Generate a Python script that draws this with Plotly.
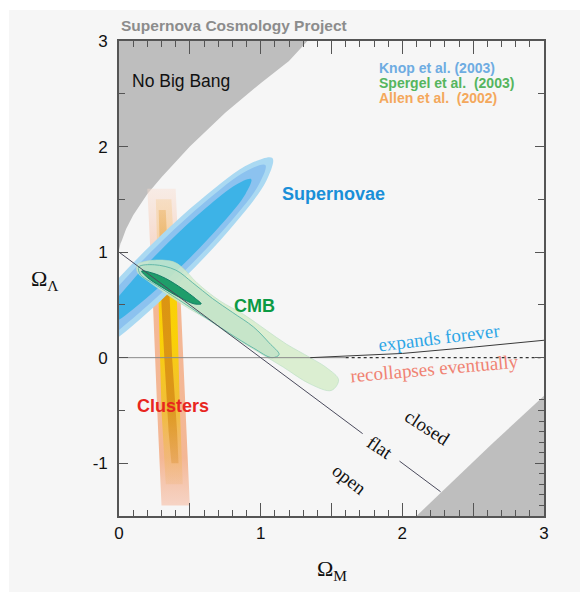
import plotly.graph_objects as go

# ---------------- data ----------------
# "No Big Bang" region boundary (Omega_M, Omega_Lambda)
NBB_M = [0.0, 0.0, 0.01, 0.02, 0.05, 0.10, 0.20, 0.30, 0.50, 0.75, 1.00, 1.20, 1.33, 1.40, 0.0]
NBB_L = [3.10, 1.02, 1.08, 1.11, 1.22, 1.35, 1.55, 1.71, 2.00, 2.32, 2.60, 2.81, 3.00, 3.10, 3.10]

# bottom-right grey region
BR_M = [2.10, 2.27, 2.63, 3.00, 3.00]
BR_L = [-1.50, -1.28, -0.82, -0.36, -1.50]

# Clusters (Allen et al. 2002)
CL_OUTER_M = [0.20, 0.24, 0.27, 0.30, 0.50, 0.47, 0.44, 0.40]
CL_OUTER_L = [1.60, 0.50, -0.50, -1.40, -1.40, -0.50, 0.50, 1.60]
CL_MID_M = [0.26, 0.28, 0.30, 0.33, 0.45, 0.43, 0.41, 0.37]
CL_MID_L = [1.50, 0.50, -0.50, -1.20, -1.20, -0.50, 0.50, 1.50]
CL_CORE_M = [0.28, 0.30, 0.32, 0.35, 0.37, 0.42, 0.41, 0.375, 0.36, 0.33]
CL_CORE_L = [1.40, 0.50, 0.00, -0.70, -1.00, -1.00, -0.70, 0.00, 0.50, 1.40]

# Supernovae (Knop et al. 2003)
SN_OUTER_M = [1.083, 1.041, 0.807, 0.446, 0.054, -0.265, -0.424, -0.381, -0.148, 0.213, 0.606, 0.924]
SN_OUTER_L = [1.891, 1.678, 1.255, 0.735, 0.256, -0.051, -0.105, 0.108, 0.531, 1.051, 1.530, 1.837]
SN_MID_M = [1.033, 0.988, 0.774, 0.447, 0.095, -0.186, -0.323, -0.278, -0.064, 0.263, 0.615, 0.896]
SN_MID_L = [1.825, 1.642, 1.267, 0.801, 0.369, 0.085, 0.027, 0.210, 0.585, 1.051, 1.484, 1.767]
SN_IN_M = [0.933, 0.894, 0.725, 0.469, 0.197, -0.019, -0.123, -0.084, 0.085, 0.341, 0.613, 0.829]
SN_IN_L = [1.691, 1.554, 1.266, 0.904, 0.567, 0.344, 0.294, 0.431, 0.718, 1.081, 1.418, 1.641]

# CMB (Spergel et al. 2003)
CMB_OUTER_M = [0.13, 0.22, 0.38, 0.45, 0.55, 0.71, 0.88, 1.04, 1.18, 1.35, 1.47, 1.55,
               1.50, 1.35, 1.16, 1.00, 0.80, 0.64, 0.50, 0.36, 0.20, 0.13]
CMB_OUTER_L = [0.88, 0.92, 0.91, 0.85, 0.71, 0.54, 0.41, 0.26, 0.13, 0.00, -0.10, -0.21,
               -0.31, -0.25, -0.09, 0.04, 0.20, 0.35, 0.46, 0.58, 0.73, 0.81]
CMB_MID_M = [0.14, 0.25, 0.40, 0.52, 0.66, 0.80, 0.95, 1.06, 1.13, 1.08, 0.95, 0.78, 0.60, 0.42, 0.26, 0.15]
CMB_MID_L = [0.86, 0.88, 0.83, 0.71, 0.56, 0.43, 0.29, 0.14, 0.03, 0.00, 0.09, 0.23, 0.39, 0.55, 0.69, 0.79]
CMB_CORE_M = [0.16, 0.24, 0.33, 0.45, 0.54, 0.58, 0.53, 0.43, 0.30, 0.20]
CMB_CORE_L = [0.82, 0.80, 0.75, 0.65, 0.56, 0.51, 0.51, 0.57, 0.67, 0.76]

# lines
FLAT_M = [0.0, 1.72, None, 1.98, 2.27]
FLAT_L = [1.0, -0.72, None, -0.98, -1.27]
ZERO_M = [0.0, 1.60]
ZERO_L = [0.0, 0.0]
DOT_M = [1.60, 3.0]
DOT_L = [0.0, 0.0]
EXP_M = [1.35, 1.50, 2.00, 2.50, 3.00]
EXP_L = [0.00, 0.01, 0.04, 0.10, 0.165]

X_TICKS = [0, 1, 2, 3]
X_TICKTEXT = ["0", "1", "2", "3"]
X_HALF_TICKS = [0.5, 1.5, 2.5]
Y_TICKS = [-1, 0, 1, 2, 3]
Y_TICKTEXT = ["-1", "0", "1", "2", "3"]
RIGHT_MINOR = [-1.4, -1.3, -1.2, -1.1, -0.9, -0.8, -0.7, -0.6, -0.4]

LEGEND = ["Knop et al. (2003)", "Spergel et al.  (2003)", "Allen et al.  (2002)"]
LEGEND_COLORS = ["#6eace2", "#55b55e", "#f4a85c"]

# ---------------------------------------------------------------
fig = go.Figure()


def poly(xs, ys, fill, line_color=None, line_width=0, shape="linear", gradient=None):
    xs = list(xs) + [xs[0]]
    ys = list(ys) + [ys[0]]
    kw = {}
    if gradient is not None:
        kw["fillgradient"] = gradient
    fig.add_trace(go.Scatter(
        x=xs, y=ys, mode="lines", fill="toself", fillcolor=fill,
        line=dict(color=line_color or "rgba(0,0,0,0)", width=line_width, shape=shape),
        hoverinfo="skip", showlegend=False, **kw))


GREY = "#bebebe"
poly(NBB_M, NBB_L, GREY)
poly(BR_M, BR_L, GREY)

poly(CL_OUTER_M, CL_OUTER_L, "rgba(244,176,140,0.8)",
     gradient=dict(type="vertical", start=-1.4, stop=1.6,
                   colorscale=[[0.0, "rgba(246,200,180,0.75)"], [0.15, "rgba(243,172,132,0.85)"],
                               [0.62, "rgba(243,172,132,0.85)"], [0.78, "rgba(246,196,172,0.7)"],
                               [1.0, "rgba(249,222,208,0.45)"]]))
poly(CL_MID_M, CL_MID_L, "rgba(247,200,20,0.85)",
     gradient=dict(type="vertical", start=-1.2, stop=1.5,
                   colorscale=[[0.0, "rgba(240,180,120,0.3)"], [0.25, "rgba(240,190,40,0.8)"],
                               [0.5, "rgba(250,210,0,0.95)"], [0.68, "rgba(250,210,0,0.95)"],
                               [0.8, "rgba(245,200,120,0.55)"], [1.0, "rgba(245,205,150,0.4)"]]))
poly(CL_CORE_M, CL_CORE_L, "rgba(214,140,20,0.85)",
     gradient=dict(type="vertical", start=-1.0, stop=1.4,
                   colorscale=[[0.0, "rgba(222,150,60,0.45)"], [0.25, "rgba(216,142,20,0.85)"],
                               [0.7, "rgba(216,142,20,0.9)"], [0.85, "rgba(228,160,60,0.6)"],
                               [1.0, "rgba(235,175,90,0.45)"]]))

poly(SN_OUTER_M, SN_OUTER_L, "#aad9f2", shape="spline")
poly(SN_MID_M, SN_MID_L, "#8cc2ef", shape="spline")
poly(SN_IN_M, SN_IN_L, "#3db3e7", shape="spline")

poly(CMB_OUTER_M, CMB_OUTER_L, "rgba(212,236,200,0.80)", line_color="rgba(185,222,195,0.8)",
     line_width=0.8, shape="spline")
poly(CMB_MID_M, CMB_MID_L, "rgba(188,224,196,0.65)", line_color="rgba(90,180,165,0.9)",
     line_width=1, shape="spline")
poly(CMB_CORE_M, CMB_CORE_L, "#1f9d6a", line_color="#127c66", line_width=1, shape="spline")

# lines
fig.add_trace(go.Scatter(x=ZERO_M, y=ZERO_L, mode="lines", line=dict(color="#8a8a8a", width=1),
                         hoverinfo="skip", showlegend=False))
fig.add_trace(go.Scatter(x=FLAT_M, y=FLAT_L, mode="lines", line=dict(color="#4a4a5c", width=1),
                         hoverinfo="skip", showlegend=False, connectgaps=False))
fig.add_trace(go.Scatter(x=EXP_M, y=EXP_L, mode="lines", line=dict(color="#3a3a3a", width=1),
                         hoverinfo="skip", showlegend=False))
fig.add_trace(go.Scatter(x=DOT_M, y=DOT_L, mode="lines", xaxis="x2", yaxis="y2",
                         line=dict(color="#333333", width=1.3, dash="dot"),
                         hoverinfo="skip", showlegend=False))

AX = "#555555"
TICKFONT = dict(family="Liberation Sans, Arial, sans-serif", size=17, color="#111111")

fig.update_layout(
    width=588, height=594,
    margin=dict(l=111, r=52, t=33, b=86),
    paper_bgcolor="white",
    plot_bgcolor="#f6f6f6",
    showlegend=False,
    xaxis=dict(range=[0, 3], tickmode="array", tickvals=X_TICKS, ticktext=X_TICKTEXT,
               ticks="inside", ticklen=13, tickwidth=1.3, tickcolor=AX,
               minor=dict(dtick=0.1, ticks="inside", ticklen=6, tickwidth=1.1, tickcolor=AX),
               showline=True, linecolor=AX, linewidth=1.6, mirror="ticks",
               showgrid=False, zeroline=False, tickfont=TICKFONT, ticklabelstandoff=1),
    xaxis2=dict(range=[0, 3], overlaying="x", side="bottom", anchor="y2", tickmode="array",
                tickvals=X_HALF_TICKS, ticks="inside", ticklen=13, tickwidth=1.3, tickcolor=AX,
                mirror="ticks", showticklabels=False, showline=False, showgrid=False,
                zeroline=False),
    yaxis=dict(range=[-1.5, 3], tickmode="array", tickvals=Y_TICKS, ticktext=Y_TICKTEXT,
               ticks="inside", ticklen=9, tickwidth=1.3, tickcolor=AX,
               minor=dict(dtick=0.5, ticks="inside", ticklen=6, tickwidth=1.1, tickcolor=AX),
               showline=True, linecolor=AX, linewidth=1.6, mirror="ticks",
               showgrid=False, zeroline=False, tickfont=TICKFONT, ticklabelstandoff=6),
    yaxis2=dict(range=[-1.5, 3], overlaying="y", side="right", anchor="x2", tickmode="array",
                tickvals=RIGHT_MINOR, ticks="inside", ticklen=5, tickwidth=1.1, tickcolor=AX,
                showticklabels=False, showline=False, showgrid=False, zeroline=False),
)

fig.add_shape(type="rect", xref="paper", yref="paper", x0=-0.2588, x1=1.0847, y0=-0.16, y1=1.0653,
              fillcolor="#f6f6f6", line=dict(width=0), layer="below")

SANS = "Liberation Sans, Arial, Helvetica, sans-serif"
SERIF = "Liberation Serif, Times New Roman, serif"

ann = []
ann.append(dict(text="<b>Supernova Cosmology Project</b>", xref="paper", yref="paper",
                x=0.0, y=1.0316, xanchor="left", yanchor="middle",
                font=dict(family=SANS, size=15.5, color="#8c8c8c")))
ann.append(dict(text="No Big Bang", x=0.078, y=2.62, xanchor="left", yanchor="middle",
                font=dict(family=SANS, size=17.5, color="#111111")))
for i, (t, c) in enumerate(zip(LEGEND, LEGEND_COLORS)):
    ann.append(dict(text="<b>" + t + "</b>", x=1.82, y=2.74 - 0.138 * i, xanchor="left",
                    yanchor="middle", font=dict(family=SANS, size=14, color=c)))
ann.append(dict(text="<b>Supernovae</b>", x=1.136, y=1.555, xanchor="left", yanchor="middle",
                font=dict(family=SANS, size=18, color="#1a8fd8")))
ann.append(dict(text="<b>CMB</b>", x=0.795, y=0.493, xanchor="left", yanchor="middle",
                font=dict(family=SANS, size=18, color="#0c9a44")))
ann.append(dict(text="<b>Clusters</b>", x=0.113, y=-0.455, xanchor="left", yanchor="middle",
                font=dict(family=SANS, size=18, color="#e8261e")))
ann.append(dict(text="expands forever", x=2.265, y=0.19, textangle=-7,
                font=dict(family=SERIF, size=19, color="#2ea6e6")))
ann.append(dict(text="recollapses eventually", x=2.23, y=-0.10, textangle=-5,
                font=dict(family=SERIF, size=19, color="#f08272")))
ann.append(dict(text="closed", x=2.176, y=-0.66, textangle=33,
                font=dict(family=SERIF, size=19, color="#111111")))
ann.append(dict(text="flat", x=1.842, y=-0.85, textangle=34,
                font=dict(family=SERIF, size=19, color="#111111")))
ann.append(dict(text="open", x=1.63, y=-1.15, textangle=38,
                font=dict(family=SERIF, size=19, color="#111111")))
ann.append(dict(text="Ω<sub>Λ</sub>", xref="paper", yref="paper", x=-0.174, y=0.497,
                xanchor="center", yanchor="middle",
                font=dict(family=SERIF, size=22, color="#111111")))
ann.append(dict(text="Ω<sub>M</sub>", xref="paper", yref="paper", x=0.501, y=-0.114,
                xanchor="center", yanchor="middle",
                font=dict(family=SERIF, size=22, color="#111111")))
for a in ann:
    a.setdefault("showarrow", False)
    a.setdefault("xref", "x")
    a.setdefault("yref", "y")
fig.update_layout(annotations=ann)

fig.write_html("out.html")
